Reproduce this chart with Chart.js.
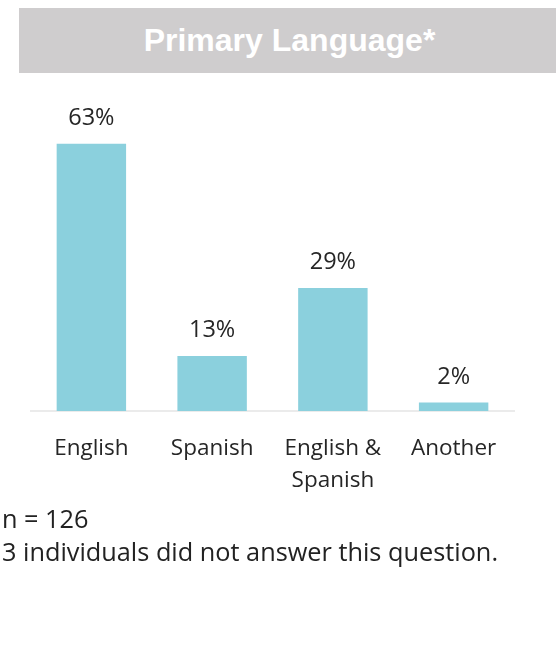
<!DOCTYPE html>
<html>
<head>
<meta charset="utf-8">
<script src="https://cdn.jsdelivr.net/npm/chart.js@4"></script>
<style>
  body { margin: 0; background: #fff; width: 556px; height: 669px; position: relative; overflow: hidden; }
  .banner {
    position: absolute; left: 19px; top: 8px; width: 533px; height: 65px; padding-left: 4px;
    background: #cfcdce; color: #fff; text-align: center;
    font: bold 32px "Liberation Sans", Arial, sans-serif; line-height: 65px;
  }
  .chart-box { position: absolute; left: 0; top: 80px; width: 556px; height: 439px; }
  .note {
    position: absolute; left: 2px; color: #222;
    font: 25.3px "Open Sans", sans-serif; line-height: 30px; white-space: nowrap;
  }
</style>
</head>
<body>
<div class="banner">Primary Language*</div>
<div class="chart-box"><canvas id="langChart"></canvas></div>
<div class="note" style="top: 503px;">n = 126</div>
<div class="note" style="top: 536px;">3 individuals did not answer this question.</div>
<script>
const languages = ['English', 'Spanish', ['English &', 'Spanish'], 'Another'];
const percentages = [63, 13, 29, 2];

// percentage text above each bar
const valueLabels = {
    id: 'valueLabels',
    afterDatasetsDraw(chart) {
        const ctx = chart.ctx;
        const meta = chart.getDatasetMeta(0);
        ctx.save();
        ctx.font = '23.5px "Open Sans"';
        ctx.fillStyle = '#262626';
        ctx.textAlign = 'center';
        ctx.textBaseline = 'alphabetic';
        meta.data.forEach((bar, i) => {
            ctx.fillText(percentages[i] + '%', bar.x, bar.y - 19);
        });
        ctx.restore();
    }
};

const ctx = document.getElementById('langChart').getContext('2d');
new Chart(ctx, {
    type: 'bar',
    data: {
        labels: languages,
        datasets: [{
            data: percentages,
            backgroundColor: '#8bd0dd',
            categoryPercentage: 1,
            barPercentage: 0.575
        }]
    },
    options: {
        responsive: true,
        maintainAspectRatio: false,
        animation: false,
        layout: { padding: { left: 31, right: 42, top: 34, bottom: 0 } },
        plugins: {
            legend: { display: false },
            tooltip: { enabled: false }
        },
        scales: {
            y: { display: false, min: 0, max: 70 },
            x: {
                grid: { display: false, drawTicks: false },
                border: { display: true, color: '#ebebeb', width: 2 },
                ticks: {
                    color: '#262626',
                    padding: 22,
                    maxRotation: 0,
                    font: { family: 'Open Sans', size: 22.5, lineHeight: 1.42 }
                }
            }
        }
    },
    plugins: [valueLabels]
});
</script>
</body>
</html>
